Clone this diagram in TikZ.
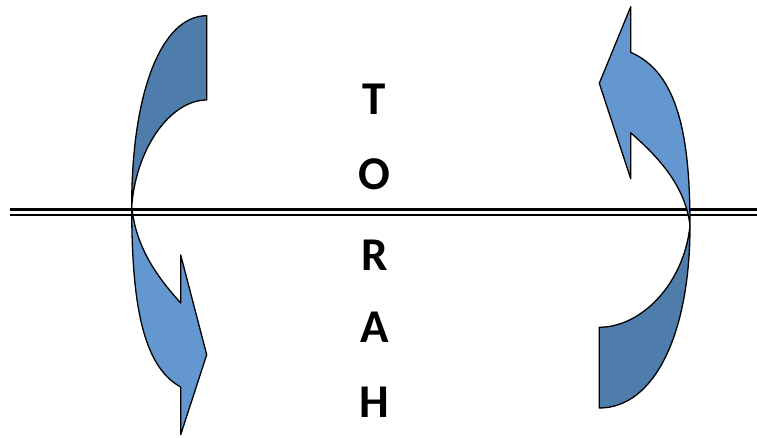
\documentclass[tikz,border=0pt]{standalone}
\usepackage{fontspec}
\setmainfont{Carlito}
\definecolor{arrowdark}{HTML}{4F7DAB}
\definecolor{arrowlight}{HTML}{6497CF}
\tikzset{
  darkpart/.style={fill=arrowdark, draw=black, line width=1.3pt, line join=round},
  lightpart/.style={fill=arrowlight, draw=black, line width=1.3pt, line join=round},
  letter/.style={anchor=base, inner sep=0pt, font=\fontsize{47}{47}\selectfont\bfseries},
  rule/.style={draw=black, double=white, double distance=3.4pt, line width=2.3pt}
}
\newcommand{\curvedarrowshape}{%
  % tail (back face)
  \path[darkpart] (75,0) .. controls (30,0) and (0,76) .. (0,190.3)
     .. controls (5,130) and (40,84.3) .. (75,84.3) -- cycle;
  % head (front face)
  \path[lightpart] (0,190.3) .. controls (0,284.3) and (10,350) .. (49,371.3)
     -- (49,419) -- (75,339) -- (49,239.3) -- (49,287.3)
     .. controls (30,266) and (4,235) .. (0,190.3) -- cycle;
}
\begin{document}
\begin{tikzpicture}[x=1pt,y=-1pt]
\useasboundingbox (0,0) rectangle (757,438);
\fill[white] (0,0) rectangle (757,438);
\coordinate (ruleL) at (10,212.3);
\coordinate (ruleR) at (757,212.3);
\draw[rule] (ruleL) -- (ruleR);
\begin{scope}[shift={(131.7,15.7)}]
  \curvedarrowshape
\end{scope}
\begin{scope}[shift={(690,408)}, xscale=-1.2093, yscale=-0.9578]
  \curvedarrowshape
\end{scope}
\node[letter] (t) at (374.5,115) {T};
\node[letter] (o) at (374.5,190) {O};
\node[letter] (r) at (374.5,270) {R};
\node[letter] (a) at (374.5,342) {A};
\node[letter] (h) at (374.5,417) {H};
\end{tikzpicture}
\end{document}
